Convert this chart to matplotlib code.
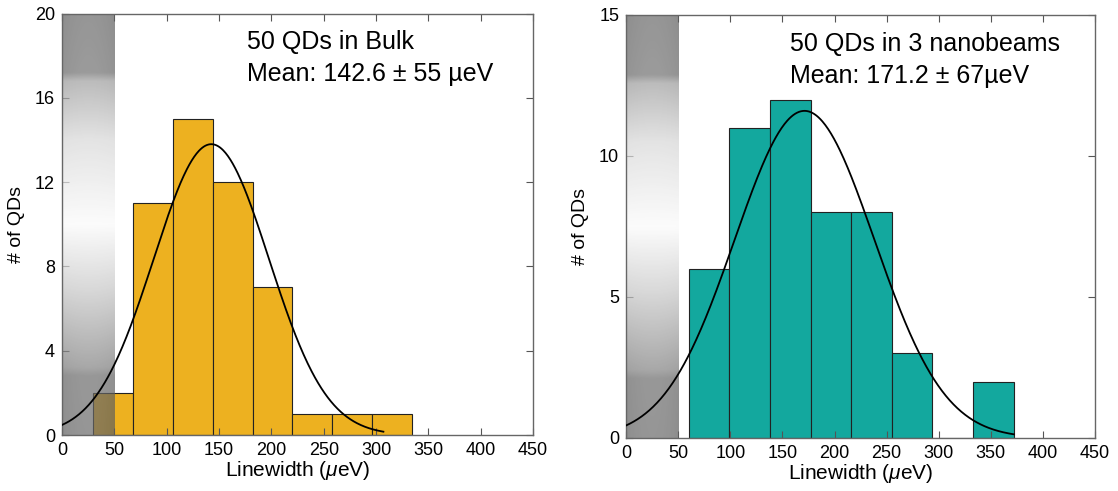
import numpy as np
import matplotlib
matplotlib.use('Agg')
import matplotlib.pyplot as plt

plt.rcParams['font.family'] = ['Liberation Sans', 'DejaVu Sans']
plt.rcParams['mathtext.fontset'] = 'custom'
plt.rcParams['mathtext.it'] = 'Liberation Sans:italic'
plt.rcParams['mathtext.rm'] = 'Liberation Sans'

# histogram data
bulk_edges = [30, 68, 106, 144, 182, 220, 258, 296, 334]
bulk_counts = [2, 11, 15, 12, 7, 1, 1, 1]
beam_edges = [60, 99, 138, 177, 216, 255, 294, 333, 372]
beam_counts = [6, 11, 12, 8, 8, 3, 0, 2]

# gaussian fit parameters (mean, sigma, peak height, last x of the drawn curve)
gauss_mean = [142.6, 171.2]
gauss_sigma = [55.0, 67.0]
gauss_peak = [13.8, 11.6]
gauss_end = [307, 372]

titles = ['50 QDs in Bulk', '50 QDs in 3 nanobeams']
means = ['Mean: 142.6 \u00b1 55 \u00b5eV', 'Mean: 171.2 \u00b1 67\u00b5eV']
ylims = [20, 15]
yticks = [[0, 4, 8, 12, 16, 20], [0, 5, 10, 15]]
xticks = [0, 50, 100, 150, 200, 250, 300, 350, 400, 450]
band_max = 50
colors = ['#EDB120', '#13A89E']
text_x = [0.393, 0.35]


def band_image():
    # shaded gray column: dark top and bottom, bright spot in the middle
    ny, nx = 300, 40
    fy = np.linspace(0, 1, ny)[:, None]          # 0 = bottom, 1 = top
    fx = np.linspace(-1, 1, nx)[None, :]
    yp = [0.0, 0.14, 0.16, 0.35, 0.5, 0.7, 0.84, 0.86, 1.0]
    vp = [150, 152, 168, 218, 252, 228, 188, 155, 150]
    prof = np.interp(fy[:, 0], yp, vp)[:, None]
    eff = 255 - (255 - prof) * (1 + 0.08 * fx ** 2)
    eff = np.clip(eff, 140, 255)
    g = np.clip((eff - 0.3 * 255) / 0.7, 0, 255) / 255.0
    img = np.zeros((ny, nx, 4))
    img[..., 0] = g
    img[..., 1] = g
    img[..., 2] = g
    img[..., 3] = 0.7
    return img


fig = plt.figure(figsize=(11.18, 4.91), dpi=100)
ax1 = fig.add_axes([0.0555, 0.114, 0.4213, 0.8585])
ax2 = fig.add_axes([0.560, 0.108, 0.4195, 0.8615])

data = [(bulk_edges, bulk_counts), (beam_edges, beam_counts)]
for i, ax in enumerate([ax1, ax2]):
    edges, counts = data[i]
    edges = np.array(edges)
    ax.bar(edges[:-1], counts, width=np.diff(edges), align='edge',
           color=colors[i], edgecolor='#222222', linewidth=0.8, zorder=1)
    ax.imshow(band_image(), extent=[0, band_max, 0, ylims[i]], origin='lower',
              aspect='auto', interpolation='bilinear', zorder=2)
    x = np.linspace(0, gauss_end[i], 400)
    y = gauss_peak[i] * np.exp(-(x - gauss_mean[i]) ** 2 / (2 * gauss_sigma[i] ** 2))
    ax.plot(x, y, color='black', linewidth=1.3, zorder=3)

    ax.set_xlim(0, 450)
    ax.set_ylim(0, ylims[i])
    ax.set_xticks(xticks)
    ax.set_yticks(yticks[i])
    ax.tick_params(direction='in', top=True, right=True, length=5,
                   width=0.8, color='#555555', labelsize=13, pad=5)
    for s in ax.spines.values():
        s.set_color('#666666')
        s.set_linewidth(1.0)
    ax.set_xlabel(r'Linewidth ($\mu$eV)', fontsize=15, labelpad=0)
    ax.set_ylabel('# of QDs', fontsize=14, labelpad=7)
    ax.text(text_x[i], 0.96, titles[i], transform=ax.transAxes,
            fontsize=18, va='top', ha='left')
    ax.text(text_x[i], 0.885, means[i], transform=ax.transAxes,
            fontsize=18, va='top', ha='left')

fig.savefig('out.png', dpi=100)
